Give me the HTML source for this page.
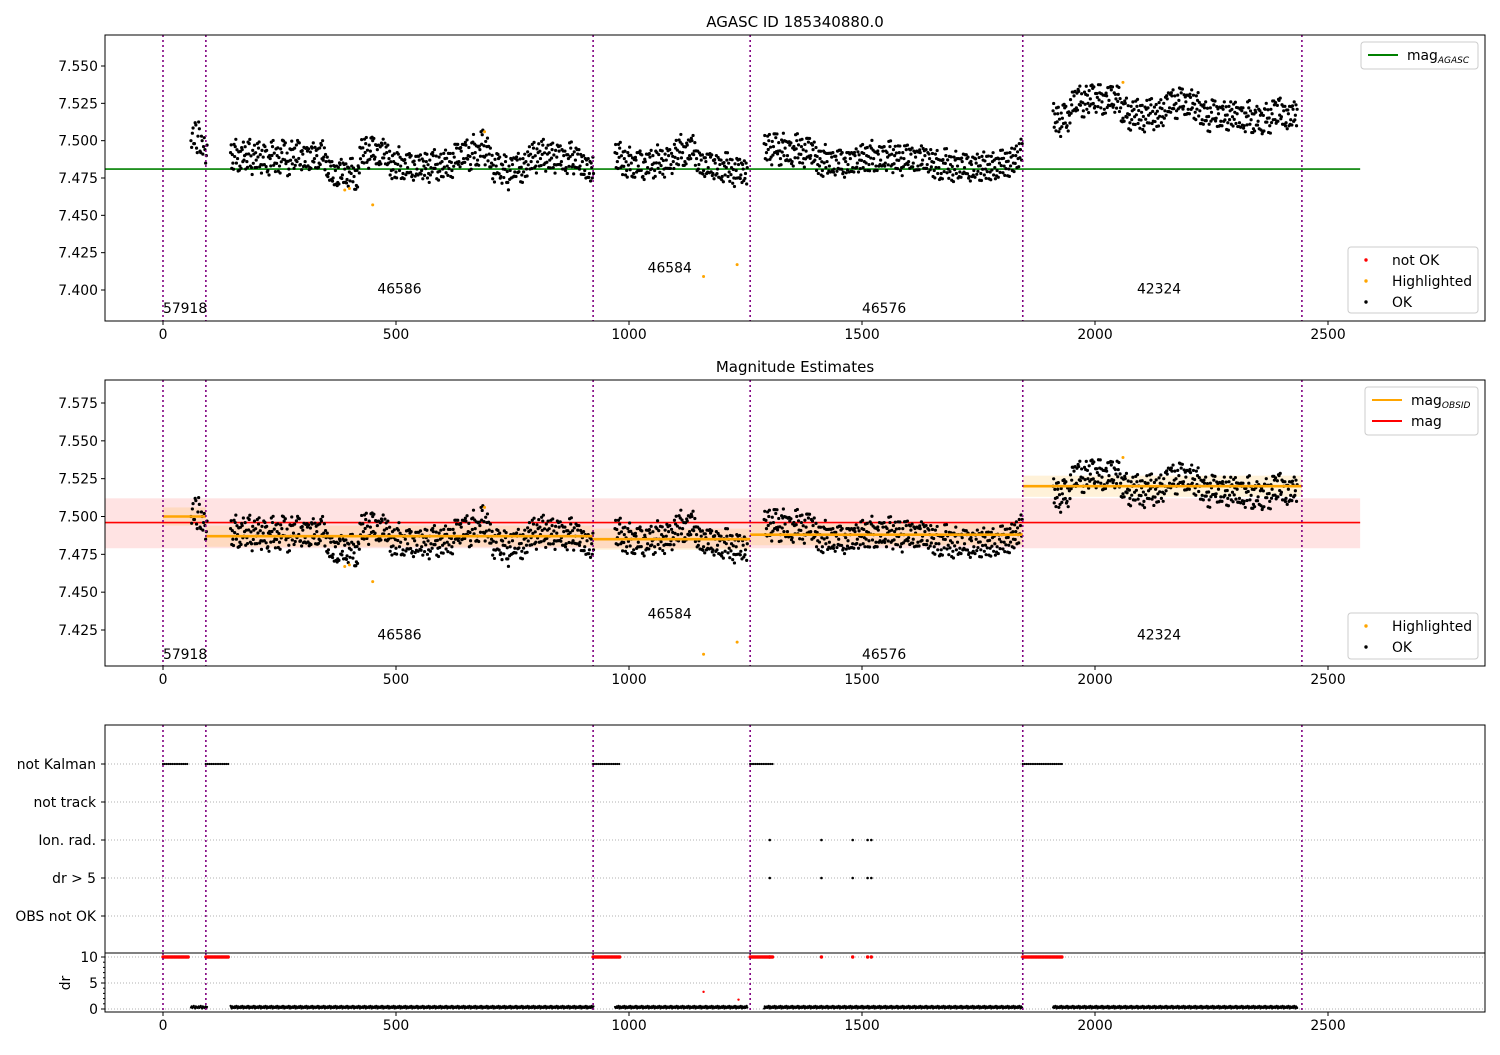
<!DOCTYPE html>
<html><head><meta charset="utf-8"><style>
body{margin:0;background:#fff}
svg text{font-family:"DejaVu Sans","Liberation Sans",sans-serif;font-size:13.9px;fill:#000}
</style></head><body>
<svg id="c" width="1500" height="1050" xmlns="http://www.w3.org/2000/svg"></svg>
<script>
// ---- data ----
const obsBounds=[0,92,923,1260,1845,2444];
const obsIds=["57918","46586","46584","46576","42324"];
const obsLabelT=[0,460,1040,1500,2090];
const obsLabelY1=[7.388,7.401,7.415,7.388,7.401];
const obsLabelY2=[7.409,7.422,7.436,7.409,7.422];
const obsMeans=[7.500,7.487,7.485,7.488,7.520];
const obsStd=[0.006,0.007,0.007,0.007,0.007];
const magAgasc=7.481;
const magMean=7.496, magLo=7.479, magHi=7.512;
const segStart=[60,145,970,1290,1910];
const segStep=[3,5,5,5,5];
const segMags=[
[100,105,98,112,95,103,108,92,100,96,94,90],
[92,85,96,88,83,94,90,86,98,82,91,87,95,84,89,93,80,88,96,85,90,83,92,97,86,81,94,89,87,99,84,91,86,93,82,95,88,90,85,97,89,
86,78,83,75,80,72,84,77,81,74,79,83,76,70,82,
95,90,98,87,93,100,89,94,86,97,91,92,
88,80,86,79,91,83,78,85,82,89,77,84,81,87,80,83,86,78,82,90,84,79,85,81,88,83,86,80,
89,95,86,93,88,97,90,84,99,92,87,94,104,89,96,91,
85,78,83,88,76,81,86,72,80,84,79,87,82,77,85,81,
90,86,95,83,92,88,97,85,91,87,94,84,89,93,86,90,82,88,95,84,87,91,83,86,80,84,78,82],
[92,86,95,83,88,80,90,85,78,87,83,91,76,86,82,89,84,80,92,85,88,81,87,90,84,86,
95,88,99,92,86,97,90,100,93,88,
84,87,80,86,82,89,78,85,81,84,76,83,87,79,82,75,80,84,77,81,78],
[98,92,100,89,96,102,93,88,99,95,90,97,86,94,100,91,96,88,93,99,90,94,
90,84,88,80,92,86,83,89,81,87,85,91,79,86,84,88,82,90,85,87,
92,86,90,84,95,88,83,91,87,93,85,89,96,84,90,87,92,82,88,94,86,91,85,89,83,92,87,90,84,88,
86,80,88,82,78,85,90,81,84,77,87,83,79,86,82,88,76,84,80,85,83,78,87,81,84,79,86,82,80,85,88,83,86,81,89,85,90,88,94],
[120,112,118,108,115,122,110,117,
124,130,122,133,126,120,131,125,128,135,123,129,132,126,121,130,127,134,124,128,131,
122,115,125,118,112,120,116,123,114,119,110,121,117,124,113,118,115,122,116,120,
128,122,130,124,120,127,132,123,126,121,129,125,119,127,
120,114,122,116,111,119,124,115,118,113,121,117,112,120,116,119,
118,112,120,110,116,122,114,108,119,113,117,106,121,115,110,118,124,113,127,116,120,112,118,114,121,117]
];
// typical residual scatter around each sample (mag units) and sub-sample time offsets
const scatterDt=[0,1.3,2.5,3.8];
const scatterOff=[0,0.007,-0.007,0.004];
const hiT=[390,400,450,690,1160,1232,2060];
const hiMag=[7.467,7.468,7.457,7.506,7.409,7.417,7.539];
const kalStart=[0,92,923,1260,1845];
const kalEnd=[55,140,980,1310,1930];
const ionT=[1302,1413,1480,1512,1520];
const drSmall=[0.3,0.5,0.2,0.4,0.6,0.3,0.1,0.5,0.4,0.2];
const drOutT=[1160,1235];
const drOutV=[3.3,1.8];
const flagCats=["not Kalman","not track","Ion. rad.","dr > 5","OBS not OK"];
const xTicks=[0,500,1000,1500,2000,2500];
const y1Ticks=[7.400,7.425,7.450,7.475,7.500,7.525,7.550];
const y2Ticks=[7.425,7.450,7.475,7.500,7.525,7.550,7.575];
const drTicks=[0,5,10];

// ---- helpers ----
const S=document.getElementById('c'),NS='http://www.w3.org/2000/svg';
function el(t,a,p){const e=document.createElementNS(NS,t);for(const k in a)e.setAttribute(k,a[k]);(p||S).appendChild(e);return e;}
const L=105,R=1485;
const X=t=>163+t*0.466;
function lin(v0,p0,v1,p1){return v=>p0+(v-v0)*(p1-p0)/(v1-v0);}
const Y1=lin(7.550,66,7.400,290), Y2=lin(7.575,403,7.425,630), YD=lin(10,957,0,1009);
const flagY=i=>764+i*38;
const pts=[];
segStart.forEach((s,i)=>segMags[i].forEach((m,j)=>{
  const base=7.4+m/1000, nxt=7.4+(segMags[i][j+1]!==undefined?segMags[i][j+1]:m)/1000;
  scatterDt.forEach((d,k)=>{ if(segStep[i]<5 && k%2) return;
    const f=d/5; pts.push([s+j*segStep[i]+d*segStep[i]/5, base+(nxt-base)*f+scatterOff[k]*((j%2)?-1:1)]);});
}));

function frame(top,bot,name){const r=el('rect',{x:L,y:top,width:R-L,height:bot-top,fill:'none',stroke:'#000','stroke-width':1});}
function xaxis(bot,g){xTicks.forEach(t=>{el('line',{x1:X(t),x2:X(t),y1:bot,y2:bot+4,stroke:'#000'},g);const tx=el('text',{x:X(t),y:bot+18,'text-anchor':'middle'},g);tx.textContent=t;});}
function yaxis(ticks,Y,fmt,g){ticks.forEach(v=>{el('line',{x1:L-4,x2:L,y1:Y(v),y2:Y(v),stroke:'#000'},g);const tx=el('text',{x:L-7,y:Y(v)+5,'text-anchor':'end'},g);tx.textContent=fmt(v);});}
function vlines(top,bot,g){obsBounds.forEach(t=>el('line',{x1:X(t),x2:X(t),y1:top,y2:bot,stroke:'purple','stroke-width':1.6,'stroke-dasharray':'2,3'},g));}
function dots(list,Y,col,r,g){list.forEach(p=>el('circle',{cx:X(p[0]),cy:Y(p[1]),r:r,fill:col},g));}
function legend(x,y,w,h,items,g){el('rect',{x:x,y:y,width:w,height:h,rx:3,fill:'#fff','fill-opacity':0.8,stroke:'#ccc'},g);
 items.forEach((it,i)=>{const cy=y+13+i*21;
  if(it.type==='line')el('line',{x1:x+7,x2:x+37,y1:cy,y2:cy,stroke:it.c,'stroke-width':2},g);
  else el('circle',{cx:x+18,cy:cy,r:1.7,fill:it.c},g);
  const tx=el('text',{x:x+(it.type==='line'?46:44),y:cy+5},g);tx.innerHTML=it.t;});}

// ---- panel 1 ----
const g1=el('g',{});
let t=el('text',{x:795,y:27,'text-anchor':'middle'},g1);t.textContent='AGASC ID 185340880.0';t.setAttribute('style','font-size:15px');
el('line',{x1:L,x2:X(2569),y1:Y1(magAgasc),y2:Y1(magAgasc),stroke:'green','stroke-width':1.6},g1);
dots(pts,Y1,'#000',1.6,g1);
dots(hiT.map((v,i)=>[v,hiMag[i]]),Y1,'orange',1.5,g1);
vlines(35,321,g1);
obsIds.forEach((id,i)=>{const tx=el('text',{x:X(obsLabelT[i]),y:Y1(obsLabelY1[i])+5},g1);tx.textContent=id;});
frame(35,321,'agasc-axes');xaxis(321,g1);yaxis(y1Ticks,Y1,v=>v.toFixed(3),g1);
legend(1361,42,117,27,[{type:'line',c:'green',t:'mag<tspan font-size="9" font-style="italic" dy="3">AGASC</tspan>'}],g1);
legend(1348,247,130,66,[{c:'red',t:'not OK'},{c:'orange',t:'Highlighted'},{c:'#000',t:'OK'}],g1);

// ---- panel 2 ----
const g2=el('g',{});
t=el('text',{x:795,y:372,'text-anchor':'middle'},g2);t.textContent='Magnitude Estimates';t.setAttribute('style','font-size:15px');
el('rect',{x:L,y:Y2(magHi),width:X(2569)-L,height:Y2(magLo)-Y2(magHi),fill:'red','fill-opacity':0.11},g2);
obsMeans.forEach((m,i)=>el('rect',{x:X(obsBounds[i]),y:Y2(m+obsStd[i]),width:X(obsBounds[i+1])-X(obsBounds[i]),height:Y2(m-obsStd[i])-Y2(m+obsStd[i]),fill:'orange','fill-opacity':0.15},g2));
el('line',{x1:L,x2:X(2569),y1:Y2(magMean),y2:Y2(magMean),stroke:'red','stroke-width':1.6},g2);
dots(pts,Y2,'#000',1.6,g2);
dots(hiT.map((v,i)=>[v,hiMag[i]]),Y2,'orange',1.5,g2);
obsMeans.forEach((m,i)=>el('line',{x1:X(obsBounds[i]),x2:X(obsBounds[i+1]),y1:Y2(m),y2:Y2(m),stroke:'orange','stroke-width':2.6},g2));
vlines(380,666,g2);
obsIds.forEach((id,i)=>{const tx=el('text',{x:X(obsLabelT[i]),y:Y2(obsLabelY2[i])+5},g2);tx.textContent=id;});
frame(380,666,'estimates-axes');xaxis(666,g2);yaxis(y2Ticks,Y2,v=>v.toFixed(3),g2);
legend(1365,387,113,48,[{type:'line',c:'orange',t:'mag<tspan font-size="9" font-style="italic" dy="3">OBSID</tspan>'},{type:'line',c:'red',t:'mag'}],g2);
legend(1348,613,130,46,[{c:'orange',t:'Highlighted'},{c:'#000',t:'OK'}],g2);

// ---- panel 3 flags ----
const g3=el('g',{});
flagCats.forEach((c,i)=>{el('line',{x1:L,x2:R,y1:flagY(i),y2:flagY(i),stroke:'#b0b0b0','stroke-dasharray':'1,2'},g3);
 el('line',{x1:L-4,x2:L,y1:flagY(i),y2:flagY(i),stroke:'#000'},g3);
 const tx=el('text',{x:L-9,y:flagY(i)+5,'text-anchor':'end'},g3);tx.textContent=c;});
kalStart.forEach((s,i)=>{for(let tt=s;tt<=kalEnd[i];tt+=4)el('circle',{cx:X(tt),cy:flagY(0),r:1.1,fill:'#000'},g3);});
ionT.forEach(v=>{el('circle',{cx:X(v),cy:flagY(2),r:1.3,fill:'#000'},g3);el('circle',{cx:X(v),cy:flagY(3),r:1.3,fill:'#000'},g3);});
vlines(725,953,g3);
frame(725,953,'flags-axes');

// ---- dr panel ----
const g4=el('g',{});
drTicks.forEach(v=>el('line',{x1:L,x2:R,y1:YD(v),y2:YD(v),stroke:'#b0b0b0','stroke-dasharray':'1,2'},g4));
[1,2,3,4,6,7,8,9].forEach(v=>el('line',{x1:L-2,x2:L,y1:YD(v),y2:YD(v),stroke:'#000'},g4));
pts.forEach((p,i)=>el('circle',{cx:X(p[0]),cy:YD(drSmall[i%drSmall.length]),r:1.1,fill:'#000'},g4));
kalStart.forEach((s,i)=>{for(let tt=s;tt<=kalEnd[i];tt+=3)el('circle',{cx:X(tt),cy:YD(10),r:1.7,fill:'red'},g4);});
ionT.forEach(v=>el('circle',{cx:X(v),cy:YD(10),r:1.7,fill:'red'},g4));
drOutT.forEach((v,i)=>el('circle',{cx:X(v),cy:YD(drOutV[i]),r:1.2,fill:'red'},g4));
vlines(953,1012,g4);
frame(953,1012,'dr-axes');xaxis(1012,g4);yaxis(drTicks,YD,v=>v,g4);
t=el('text',{x:70,y:983,'text-anchor':'middle',transform:'rotate(-90 70 983)'},g4);t.textContent='dr';
</script>
</body></html>
